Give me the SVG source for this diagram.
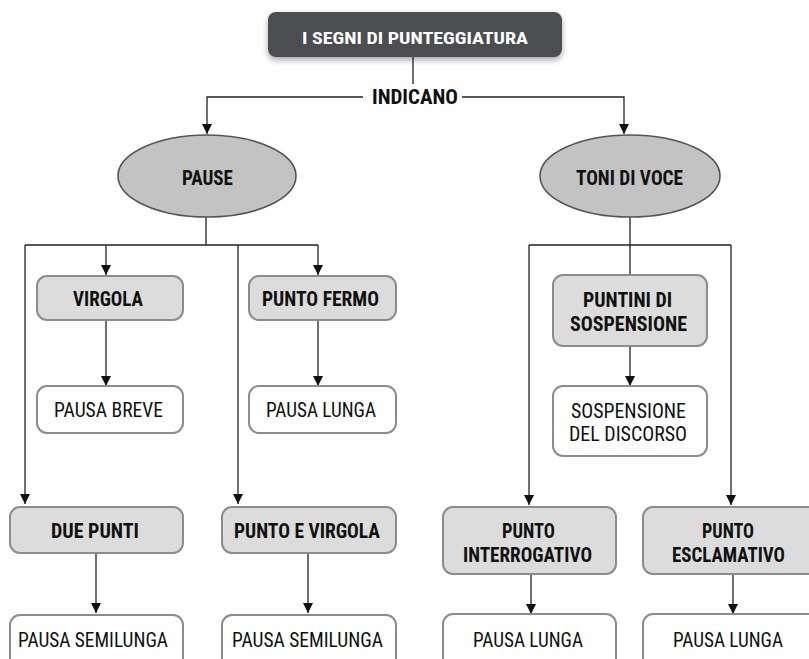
<svg xmlns="http://www.w3.org/2000/svg" width="809" height="659" viewBox="0 0 809 659">
<defs>
<marker id="arr" markerUnits="userSpaceOnUse" markerWidth="10" markerHeight="12" refX="10" refY="5" orient="auto" viewBox="0 0 10 10">
<path d="M0,0 L10,5 L0,10 z" fill="#111"/>
</marker>
<filter id="sh" x="-10%" y="-30%" width="120%" height="170%">
<feDropShadow dx="0" dy="3" stdDeviation="3" flood-color="#000" flood-opacity="0.35"/>
</filter>
</defs>
<style>
text{font-family:"Liberation Sans Narrow","Roboto Condensed","DejaVu Sans Condensed","Liberation Sans",sans-serif;font-stretch:condensed;text-anchor:middle;font-size:20px;fill:#111}
.b{font-weight:bold}
.t{font-weight:bold;fill:#fff;font-size:17px}
.ell{fill:#c3c3c3;stroke:#555;stroke-width:1.6}
.g{fill:#dcdcdc;stroke:#8c8c8c;stroke-width:2}
.w{fill:#fff;stroke:#8c8c8c;stroke-width:2}
.c path{fill:none;stroke:#222;stroke-width:1.3}
.c .a{marker-end:url(#arr)}
</style>
<rect width="809" height="659" fill="#fff"/>
<g class="c" id="connectors">
<path d="M413,57 V84"/>
<path class="a" d="M363,97 H207 V134"/>
<path class="a" d="M462,97 H624 V134"/>
<path d="M206,217 V245 M25,245 H318"/>
<path class="a" d="M25,245 V504"/>
<path class="a" d="M106,245 V275"/>
<path class="a" d="M318,245 V275"/>
<path class="a" d="M238,245 V504"/>
<path class="a" d="M106,320 V386"/>
<path class="a" d="M318,320 V386"/>
<path class="a" d="M96,553 V613"/>
<path class="a" d="M308,553 V613"/>
<path d="M630,217 V275 M529,245 H731"/>
<path class="a" d="M529,245 V505"/>
<path class="a" d="M731,245 V505"/>
<path class="a" d="M630,346 V386"/>
<path class="a" d="M531,574 V614"/>
<path class="a" d="M733,574 V614"/>
</g>
<g id="title">
<rect x="268" y="12" width="294" height="45" rx="8" fill="#4b4d51" filter="url(#sh)"/>
<text class="t" x="415" y="44" textLength="226" lengthAdjust="spacingAndGlyphs">I SEGNI DI PUNTEGGIATURA</text>
</g>
<g id="indicano">
<text class="b" x="415" y="104" textLength="86" lengthAdjust="spacingAndGlyphs">INDICANO</text>
</g>
<g id="pause">
<ellipse class="ell" cx="207" cy="176" rx="89" ry="41"/>
<text class="b" x="207.5" y="185" textLength="51" lengthAdjust="spacingAndGlyphs">PAUSE</text>
</g>
<g id="toni">
<ellipse class="ell" cx="630" cy="176" rx="90" ry="41"/>
<text class="b" x="629.5" y="185" textLength="107" lengthAdjust="spacingAndGlyphs">TONI DI VOCE</text>
</g>
<g id="virgola">
<rect class="g" x="37" y="276" width="146" height="44" rx="10"/>
<text class="b" x="108" y="306" textLength="70" lengthAdjust="spacingAndGlyphs">VIRGOLA</text>
</g>
<g id="punto-fermo">
<rect class="g" x="249" y="276" width="147" height="44" rx="10"/>
<text class="b" x="320.5" y="306" textLength="117" lengthAdjust="spacingAndGlyphs">PUNTO FERMO</text>
</g>
<g id="pausa-breve">
<rect class="w" x="37" y="386" width="146" height="47" rx="10"/>
<text x="108.5" y="417" textLength="109" lengthAdjust="spacingAndGlyphs">PAUSA BREVE</text>
</g>
<g id="pausa-lunga-1">
<rect class="w" x="249" y="386" width="147" height="47" rx="10"/>
<text x="321" y="417" textLength="110" lengthAdjust="spacingAndGlyphs">PAUSA LUNGA</text>
</g>
<g id="due-punti">
<rect class="g" x="10" y="507" width="173" height="46" rx="10"/>
<text class="b" x="95" y="538" textLength="88" lengthAdjust="spacingAndGlyphs">DUE PUNTI</text>
</g>
<g id="punto-e-virgola">
<rect class="g" x="222" y="507" width="174" height="46" rx="10"/>
<text class="b" x="307" y="538" textLength="146" lengthAdjust="spacingAndGlyphs">PUNTO E VIRGOLA</text>
</g>
<g id="pausa-semilunga-1">
<rect class="w" x="10" y="615" width="173" height="60" rx="10"/>
<text x="93" y="647" textLength="150" lengthAdjust="spacingAndGlyphs">PAUSA SEMILUNGA</text>
</g>
<g id="pausa-semilunga-2">
<rect class="w" x="222" y="615" width="174" height="60" rx="10"/>
<text x="307.5" y="647" textLength="151" lengthAdjust="spacingAndGlyphs">PAUSA SEMILUNGA</text>
</g>
<g id="puntini">
<rect class="g" x="553" y="275" width="154" height="71" rx="10"/>
<text class="b" x="627.5" y="307" textLength="89" lengthAdjust="spacingAndGlyphs">PUNTINI DI</text>
<text class="b" x="628.5" y="331" textLength="117" lengthAdjust="spacingAndGlyphs">SOSPENSIONE</text>
</g>
<g id="sospensione">
<rect class="w" x="553" y="386" width="154" height="70" rx="10"/>
<text x="628.5" y="418" textLength="115" lengthAdjust="spacingAndGlyphs">SOSPENSIONE</text>
<text x="628" y="441" textLength="118" lengthAdjust="spacingAndGlyphs">DEL DISCORSO</text>
</g>
<g id="interrogativo">
<rect class="g" x="443" y="507" width="173" height="67" rx="10"/>
<text class="b" x="528.5" y="538" textLength="53" lengthAdjust="spacingAndGlyphs">PUNTO</text>
<text class="b" x="527.5" y="562" textLength="129" lengthAdjust="spacingAndGlyphs">INTERROGATIVO</text>
</g>
<g id="esclamativo">
<rect class="g" x="643" y="507" width="180" height="67" rx="10"/>
<text class="b" x="728" y="538" textLength="52" lengthAdjust="spacingAndGlyphs">PUNTO</text>
<text class="b" x="728.5" y="562" textLength="113" lengthAdjust="spacingAndGlyphs">ESCLAMATIVO</text>
</g>
<g id="pausa-lunga-2">
<rect class="w" x="443" y="614" width="173" height="60" rx="10"/>
<text x="528" y="647" textLength="110" lengthAdjust="spacingAndGlyphs">PAUSA LUNGA</text>
</g>
<g id="pausa-lunga-3">
<rect class="w" x="643" y="614" width="180" height="60" rx="10"/>
<text x="728" y="647" textLength="110" lengthAdjust="spacingAndGlyphs">PAUSA LUNGA</text>
</g>
</svg>
